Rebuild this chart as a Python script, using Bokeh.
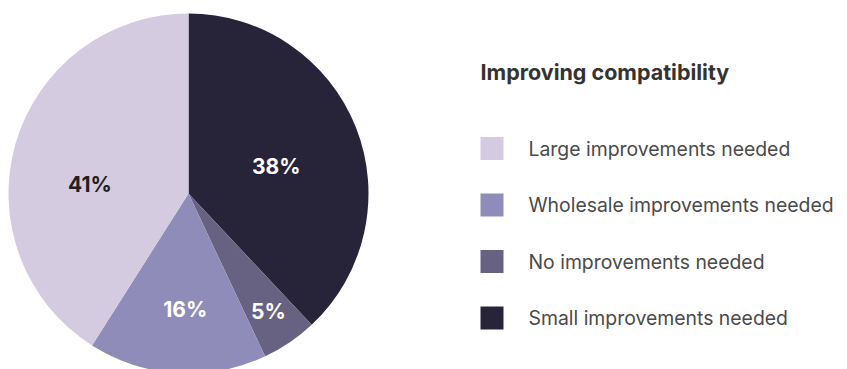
import math
from bokeh.plotting import figure
from bokeh.models import Range1d, ColumnDataSource
from bokeh.core.properties import value
from bokeh.embed import file_html
from bokeh.resources import INLINE

# ---- data (clockwise from 12 o'clock) ----
categories = ["Small improvements needed", "No improvements needed",
              "Wholesale improvements needed", "Large improvements needed"]
shares = [38, 5, 16, 41]
colors = ["#27243a", "#676282", "#8f8cba", "#d4cbe0"]
label_colors = ["#ffffff", "#ffffff", "#ffffff", "#231f20"]

legend_order = ["Large improvements needed", "Wholesale improvements needed",
                "No improvements needed", "Small improvements needed"]
title_text = "Improving compatibility"

# ---- layout / style ----
W, H = 847, 369
CX, CY, R = 188, H - 193, 180
label_rfrac = [0.51, 0.79, 0.645, 0.55]
label_angle_off = [4.6, 0.0, -2.0, -11.0]  # degrees, clockwise
FONT = "Inter"

p = figure(width=W, height=H, output_backend="svg", toolbar_location=None,
           x_range=Range1d(0, W), y_range=Range1d(0, H), min_border=0)
p.axis.visible = False
p.grid.visible = False
p.outline_line_color = None
p.background_fill_color = "#ffffff"
p.border_fill_color = "#ffffff"

total = float(sum(shares))
starts, ends, lx, ly, ltxt = [], [], [], [], []
cum = 0.0
for i, s in enumerate(shares):
    a0 = cum / total
    a1 = (cum + s) / total
    starts.append(math.pi / 2 - a0 * 2 * math.pi)
    ends.append(math.pi / 2 - a1 * 2 * math.pi)
    mid = (a0 + a1) / 2 * 360 + label_angle_off[i]
    rr = R * label_rfrac[i]
    lx.append(CX + rr * math.sin(math.radians(mid)))
    ly.append(CY + rr * math.cos(math.radians(mid)))
    ltxt.append(f"{s}%")
    cum += s

src = ColumnDataSource(dict(start=starts, end=ends, color=colors,
                            x=[CX] * 4, y=[CY] * 4))
p.wedge(x="x", y="y", radius=R, start_angle="start", end_angle="end",
        direction="clock", fill_color="color", line_color=None, source=src)

lsrc = ColumnDataSource(dict(x=lx, y=ly, t=ltxt, c=label_colors))
p.text(x="x", y="y", text="t", text_color="c", source=lsrc,
       text_font=value(FONT), text_font_style="bold", text_font_size="21px",
       text_align="center", text_baseline="middle")

# title
p.text(x=[480], y=[H - 71], text=[title_text], text_font=value(FONT),
       text_font_style="bold", text_font_size="21.5px", text_color="#333333",
       text_align="left", text_baseline="middle")

# legend
leg_y = [148, 204.5, 261, 317.5]
leg_colors = [colors[categories.index(c)] for c in legend_order]
p.rect(x=[491.5] * 4, y=[H - v for v in leg_y], width=23, height=23,
       fill_color=leg_colors, line_color=None)
p.text(x=[528] * 4, y=[H - v for v in leg_y], text=legend_order,
       text_font=value(FONT), text_font_size="19.4px", text_color="#4a4a4a",
       text_align="left", text_baseline="middle")

open("out.html", "w").write(file_html(p, INLINE))
